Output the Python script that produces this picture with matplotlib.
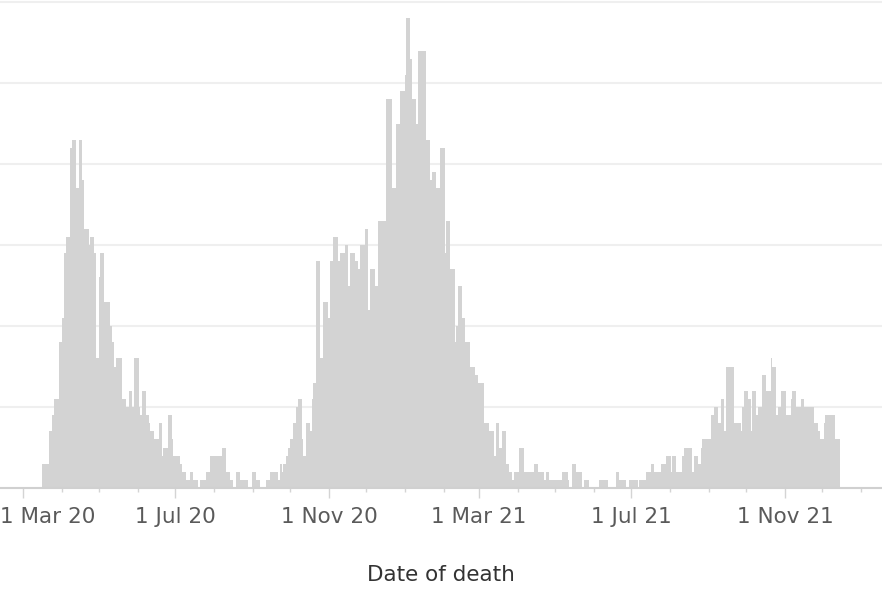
import matplotlib
matplotlib.use("Agg")
import matplotlib.pyplot as plt
import matplotlib.dates as mdates
import matplotlib.transforms as mtrans
import numpy as np
import pandas as pd

# ---- data: deaths per day, by month ----
mar20 = [0, 0, 0, 0, 0, 0, 0, 0, 0, 0, 0, 0, 0, 0, 0, 0, 3, 3, 3, 3, 3, 7, 7, 7, 9, 11, 11, 11, 11, 18, 18]
apr20 = [18, 21, 29, 29, 31, 31, 31, 42, 42, 43, 43, 43, 37, 37, 43, 43, 43, 38, 32, 32, 32, 32, 30, 31, 31, 31, 29, 29, 16, 16]
may20 = [26, 29, 29, 29, 23, 23, 23, 23, 23, 20, 20, 18, 15, 15, 16, 16, 16, 16, 16, 11, 11, 11, 10, 10, 12, 12, 12, 10, 16, 16, 16]
jun20 = [16, 10, 9, 9, 12, 12, 12, 9, 9, 8, 7, 7, 7, 6, 6, 6, 6, 8, 8, 8, 4, 5, 5, 5, 5, 9, 9, 9, 6, 4]
jul20 = [4, 4, 4, 4, 3, 3, 2, 2, 2, 1, 1, 1, 2, 2, 2, 1, 1, 1, 1, 0, 1, 1, 1, 1, 1, 2, 2, 2, 4, 4, 4]
aug20 = [4, 4, 4, 4, 4, 4, 4, 5, 5, 5, 2, 2, 2, 1, 1, 1, 0, 0, 2, 2, 2, 1, 1, 1, 1, 1, 1, 1, 0, 0, 0]
sep20 = [2, 2, 2, 1, 1, 1, 0, 0, 0, 0, 0, 1, 1, 1, 2, 2, 2, 2, 2, 2, 2, 1, 3, 3, 2, 3, 3, 4, 4, 5]
oct20 = [6, 6, 6, 8, 8, 10, 10, 11, 11, 11, 6, 4, 4, 8, 8, 8, 7, 7, 11, 13, 13, 28, 28, 28, 16, 16, 16, 23, 23, 23, 23]
nov20 = [21, 28, 28, 28, 31, 31, 31, 31, 28, 29, 29, 29, 29, 30, 30, 30, 25, 29, 29, 29, 29, 28, 28, 28, 27, 30, 30, 30, 30, 32]
dec20 = [32, 32, 22, 27, 27, 27, 27, 25, 25, 25, 33, 33, 33, 33, 33, 33, 48, 48, 48, 48, 48, 37, 37, 37, 45, 45, 45, 49, 49, 49, 49]
jan21 = [51, 58, 58, 58, 53, 53, 48, 48, 48, 45, 45, 54, 54, 54, 54, 54, 54, 43, 43, 43, 38, 38, 39, 39, 39, 37, 37, 37, 42, 42, 42]
feb21 = [42, 29, 33, 33, 33, 27, 27, 27, 27, 18, 20, 20, 25, 25, 25, 21, 21, 18, 18, 18, 18, 15, 15, 15, 15, 14, 14, 14]
mar21 = [13, 13, 13, 13, 13, 8, 8, 8, 8, 7, 7, 7, 7, 4, 8, 8, 8, 5, 5, 7, 7, 7, 3, 3, 3, 2, 2, 1, 1, 2, 2]
apr21 = [2, 2, 5, 5, 5, 5, 2, 2, 2, 2, 2, 2, 2, 2, 3, 3, 3, 2, 2, 2, 2, 2, 1, 2, 2, 2, 1, 1, 1, 1]
may21 = [1, 1, 1, 1, 1, 1, 2, 2, 2, 2, 2, 1, 0, 0, 3, 3, 3, 2, 2, 2, 2, 2, 0, 0, 1, 1, 1, 1, 0, 0, 0]
jun21 = [0, 0, 0, 0, 0, 1, 1, 1, 1, 1, 1, 1, 0, 0, 0, 0, 0, 0, 2, 2, 2, 1, 1, 1, 1, 1, 0, 0, 0, 1]
jul21 = [1, 1, 1, 1, 1, 1, 0, 1, 1, 1, 1, 1, 2, 2, 2, 2, 3, 3, 3, 2, 2, 2, 2, 2, 3, 3, 3, 3, 4, 4, 4]
aug21 = [4, 2, 4, 4, 4, 2, 2, 2, 2, 2, 4, 4, 5, 5, 5, 5, 5, 5, 2, 2, 4, 4, 4, 3, 3, 5, 6, 6, 6, 6, 6]
sep21 = [6, 6, 9, 9, 9, 10, 10, 10, 8, 8, 11, 11, 11, 7, 15, 15, 15, 15, 15, 15, 15, 8, 8, 8, 8, 8, 7, 10, 10, 12]
oct21 = [12, 12, 11, 11, 7, 12, 12, 12, 9, 9, 10, 10, 10, 14, 14, 14, 12, 12, 12, 12, 16, 15, 15, 15, 9, 9, 10, 10, 12, 12, 12]
nov21 = [12, 9, 9, 9, 9, 11, 12, 12, 12, 10, 10, 10, 10, 11, 11, 11, 10, 10, 10, 10, 10, 10, 10, 10, 8, 8, 8, 7, 7, 6]
dec21 = [6, 6, 8, 9, 9, 9, 9, 9, 9, 9, 9, 6, 6, 6, 6]

month_starts = ["2020-03-01", "2020-04-01", "2020-05-01", "2020-06-01", "2020-07-01", "2020-08-01",
                "2020-09-01", "2020-10-01", "2020-11-01", "2020-12-01", "2021-01-01", "2021-02-01",
                "2021-03-01", "2021-04-01", "2021-05-01", "2021-06-01", "2021-07-01", "2021-08-01",
                "2021-09-01", "2021-10-01", "2021-11-01", "2021-12-01"]
month_values = [mar20, apr20, may20, jun20, jul20, aug20, sep20, oct20, nov20, dec20, jan21, feb21,
                mar21, apr21, may21, jun21, jul21, aug21, sep21, oct21, nov21, dec21]

tick_dates = ["2020-03-01", "2020-07-01", "2020-11-01", "2021-03-01", "2021-07-01", "2021-11-01"]
tick_labels = ["1 Mar 20", "1 Jul 20", "1 Nov 20", "1 Mar 21", "1 Jul 21", "1 Nov 21"]
x_title = "Date of death"

# ---- build series ----
dates = []
values = []
for start, vals in zip(month_starts, month_values):
    dates.extend(pd.date_range(start, periods=len(vals), freq="D"))
    values.extend(vals)
dates = pd.DatetimeIndex(dates)
values = np.array(values, dtype=float)

plt.rcParams["font.family"] = ["DejaVu Sans"]

W, H = 882, 606
fig = plt.figure(figsize=(W / 100, H / 100), dpi=100)
ax_bottom_px = 488
ax = fig.add_axes([0, (H - ax_bottom_px) / H, 1, ax_bottom_px / H])

ax.bar(dates, values, width=1.0, color="#d3d3d3", linewidth=0, antialiased=False, zorder=2)

start = pd.Timestamp("2020-03-01")
ax.set_xlim(start - pd.Timedelta(days=18.4), start + pd.Timedelta(days=687.75))
ax.set_ylim(0, 60.25)

# grid
ax.set_yticks([0, 10, 20, 30, 40, 50, 60])
ax.yaxis.grid(True, color="#efefef", linewidth=1.5)
ax.set_axisbelow(True)
ax.tick_params(axis="y", left=False, labelleft=False)

# x ticks
ax.set_xticks(pd.to_datetime(tick_dates))
ax.set_xticklabels(tick_labels)
ax.xaxis.set_minor_locator(mdates.MonthLocator())
ax.tick_params(axis="x", which="major", length=7, width=1.0, color="#d4d4d4",
               pad=7, labelsize=15.5, labelcolor="#5a5a5a")
ax.tick_params(axis="x", which="minor", length=3, width=1.0, color="#d4d4d4")

for s in ["top", "left", "right"]:
    ax.spines[s].set_visible(False)
ax.spines["bottom"].set_color("#d0d0d0")
ax.spines["bottom"].set_linewidth(1.5)
ax.spines["bottom"].set_zorder(3)

# first label sits flush with the left edge (as in the reference)
first = ax.get_xticklabels()[0]
first.set_horizontalalignment("left")
first.set_transform(first.get_transform() + mtrans.ScaledTranslation(-23 / 100, 0, fig.dpi_scale_trans))

ax.set_xlabel(x_title, fontsize=15.5, color="#333333")
ax.xaxis.set_label_coords(0.5, -(575 - ax_bottom_px) / ax_bottom_px)
ax.xaxis.label.set_verticalalignment("center")

fig.savefig("out.png", dpi=100)
